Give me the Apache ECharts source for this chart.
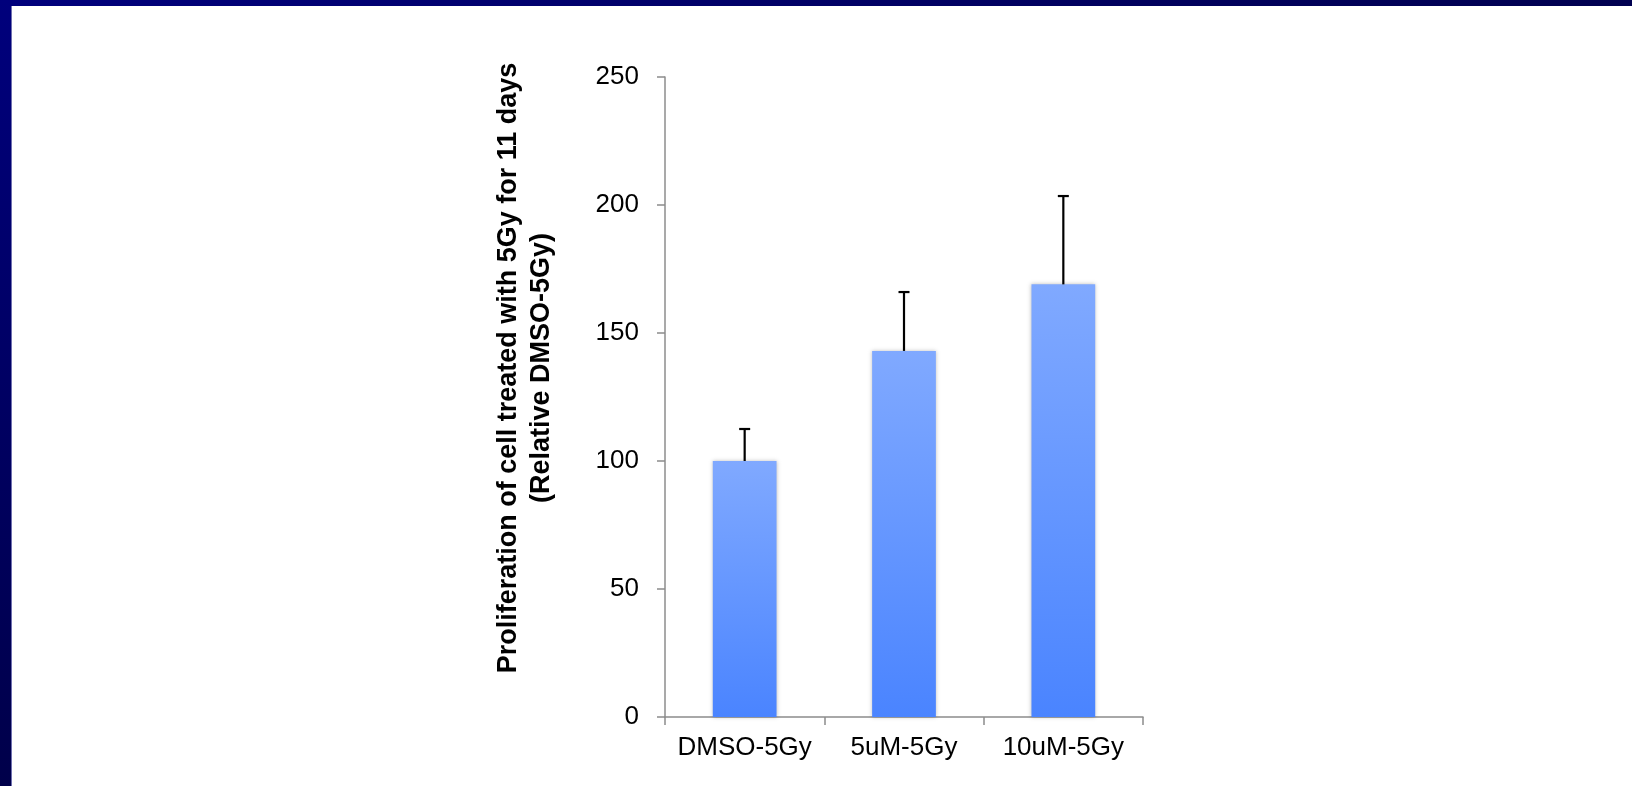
<!DOCTYPE html>
<html>
<head>
<meta charset="utf-8">
<style>
html,body{margin:0;padding:0;background:#fff;}
#chart{width:1632px;height:786px;}
</style>
<script src="https://cdn.jsdelivr.net/npm/echarts@6/dist/echarts.min.js"></script>
</head>
<body>
<div id="chart"></div>
<script>
const categories = ['DMSO-5Gy', '5uM-5Gy', '10uM-5Gy'];
const values = [100, 143, 169];
const errorTops = [112.5, 166, 203.5];
const yTicks = [0, 50, 100, 150, 200, 250];
const titleLines = ['Proliferation of cell treated with 5Gy for 11 days', '(Relative DMSO-5Gy)'];

const chart = echarts.init(document.getElementById('chart'));
const FONT = '"Liberation Sans", Arial, sans-serif';

chart.setOption({
  animation: false,
  backgroundColor: '#ffffff',
  grid: { left: 665, right: 489, top: 77, bottom: 69, containLabel: false },
  xAxis: {
    type: 'category',
    data: categories,
    axisLine: { lineStyle: { color: '#8c8c8c', width: 1.5 } },
    axisTick: { show: true, length: 8, lineStyle: { color: '#8c8c8c', width: 1.5 } },
    axisLabel: { color: '#000', fontFamily: FONT, fontSize: 26, margin: 18, interval: 0 }
  },
  yAxis: {
    type: 'value',
    min: yTicks[0],
    max: yTicks[yTicks.length - 1],
    interval: yTicks[1] - yTicks[0],
    splitLine: { show: false },
    axisLine: { show: true, lineStyle: { color: '#8c8c8c', width: 1.5 } },
    axisTick: { show: true, length: 8, lineStyle: { color: '#8c8c8c', width: 1.5 } },
    axisLabel: { color: '#000', fontFamily: FONT, fontSize: 26, margin: 26 }
  },
  graphic: [
    {
      type: 'rect', left: 0, top: 0, z: 100,
      shape: { width: 1632, height: 6 },
      style: { fill: new echarts.graphic.LinearGradient(0, 0, 1, 0, [
        { offset: 0, color: '#00007c' }, { offset: 1, color: '#000050' }]) }
    },
    {
      type: 'rect', left: 0, top: 0, z: 100,
      shape: { width: 11, height: 786 },
      style: { fill: new echarts.graphic.LinearGradient(0, 0, 0, 1, [
        { offset: 0, color: '#00007c' }, { offset: 1, color: '#00004a' }]) }
    },
    {
      type: 'rect', left: 11, top: 6, z: 100,
      shape: { width: 1, height: 780 },
      style: { fill: '#7070b0' }
    },
    {
      type: 'text', z: 100,
      x: 525, y: 368,
      rotation: Math.PI / 2,
      style: {
        text: titleLines.join('\n'),
        font: 'bold 27px ' + FONT,
        fill: '#000',
        align: 'center',
        verticalAlign: 'middle',
        lineHeight: 33
      }
    }
  ],
  series: [
    {
      type: 'bar',
      data: values,
      barWidth: '40%',
      itemStyle: {
        color: new echarts.graphic.LinearGradient(0, 0, 0, 1, [
          { offset: 0, color: '#80a9ff' },
          { offset: 1, color: '#4a84ff' }
        ]),
        shadowColor: 'rgba(0,0,0,0.25)',
        shadowBlur: 4
      }
    },
    {
      type: 'custom',
      data: values.map((v, i) => [i, v, errorTops[i]]),
      z: 5,
      renderItem: function (params, api) {
        const i = api.value(0);
        const base = api.coord([i, api.value(1)]);
        const top = api.coord([i, api.value(2)]);
        const half = 5.5;
        return {
          type: 'group',
          children: [
            { type: 'line', shape: { x1: base[0], y1: base[1], x2: top[0], y2: top[1] },
              style: { stroke: '#000', lineWidth: 2.2 } },
            { type: 'line', shape: { x1: top[0] - half, y1: top[1], x2: top[0] + half, y2: top[1] },
              style: { stroke: '#000', lineWidth: 2.2 } }
          ]
        };
      }
    }
  ]
});
</script>
</body>
</html>
